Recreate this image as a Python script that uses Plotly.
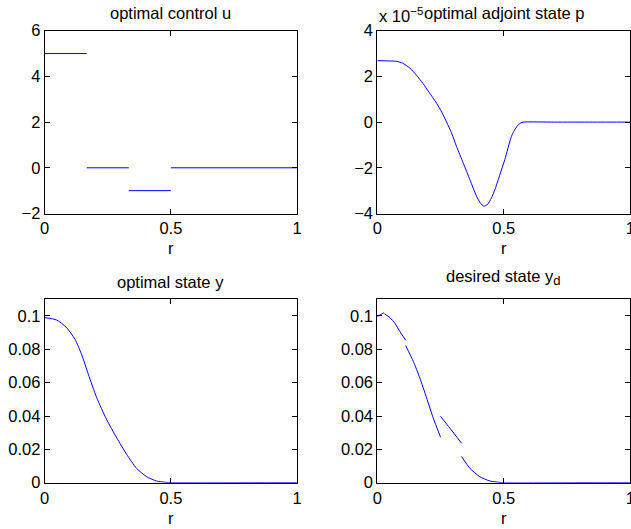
import plotly.graph_objects as go

# ---------------- data ----------------
# optimal control u (piecewise constant segments, None = break)
u_r = [0.0, 0.1667, None, 0.1667, 0.3333, None, 0.3333, 0.5, None, 0.5, 1.0]
u_val = [5, 5, None, 0, 0, None, -1, -1, None, 0, 0]

# optimal adjoint state p
p_r = [0.0, 0.03, 0.076, 0.10, 0.129, 0.155, 0.18, 0.205, 0.234, 0.255, 0.274,
       0.295, 0.313, 0.34, 0.366, 0.392, 0.408, 0.421, 0.436, 0.451, 0.465,
       0.478, 0.504, 0.53, 0.545, 0.557, 0.568, 0.576, 0.7, 0.85, 1.0]
p_val = [2.69e-5, 2.68e-5, 2.66e-5, 2.58e-5, 2.36e-5, 2.05e-5, 1.70e-5, 1.30e-5,
         0.83e-5, 0.43e-5, 0.0, -0.52e-5, -1.06e-5, -1.80e-5, -2.52e-5, -3.24e-5,
         -3.55e-5, -3.68e-5, -3.60e-5, -3.32e-5, -2.95e-5, -2.52e-5, -1.64e-5,
         -0.63e-5, -0.30e-5, -0.12e-5, -0.03e-5, 0.0, 0.0, 0.0, 0.0]

# optimal state y
y_r = [0.0, 0.047, 0.087, 0.12, 0.146, 0.173, 0.206, 0.245, 0.285, 0.325,
       0.364, 0.404, 0.443, 0.483, 0.5, 0.75, 1.0]
y_val = [0.099, 0.0976, 0.093, 0.086, 0.077, 0.065, 0.051, 0.038, 0.027, 0.017,
         0.0086, 0.0036, 0.001, 0.0002, 0.0, 0.0, 0.0]

# desired state y_d (discontinuous, None = break)
yd_r = [0.0, 0.026, None,
        0.028, 0.05, 0.07, 0.09, 0.112, None,
        0.112, 0.142, 0.168, 0.195, 0.221, 0.25, None,
        0.25, 0.287, 0.333, None,
        0.333, 0.366, 0.405, 0.445, 0.497, 0.75, 1.0]
yd_val = [0.0996, 0.102, None,
          0.1013, 0.099, 0.0955, 0.0905, 0.0855, None,
          0.0823, 0.0729, 0.0629, 0.0508, 0.0388, 0.0273, None,
          0.0398, 0.0327, 0.0237, None,
          0.0157, 0.0086, 0.0036, 0.001, 0.0, 0.0, 0.0]

x_ticks = [0, 0.5, 1]
x_ticktext = ["0", "0.5", "1"]
u_ticks = [-2, 0, 2, 4, 6]
u_ticktext = ["\u22122", "0", "2", "4", "6"]
p_ticks = [-4e-5, -2e-5, 0, 2e-5, 4e-5]
p_ticktext = ["\u22124", "\u22122", "0", "2", "4"]
y_ticks = [0, 0.02, 0.04, 0.06, 0.08, 0.1]
y_ticktext = ["0", "0.02", "0.04", "0.06", "0.08", "0.1"]

titles = ["optimal control u", "optimal adjoint state p",
          "optimal state y", "desired state y<sub><span style=\"font-size:13px\">d</span></sub>"]

# ---------------- figure ----------------
W, H = 631, 529
FONT = "Liberation Sans, Arial, Helvetica, sans-serif"
FS = 16.5
BLUE = "#0000ff"

fig = go.Figure()
fig.add_trace(go.Scatter(x=u_r, y=u_val, mode="lines", line=dict(color=BLUE, width=1),
                         xaxis="x", yaxis="y", connectgaps=False))
fig.add_trace(go.Scatter(x=p_r, y=p_val, mode="lines",
                         line=dict(color=BLUE, width=1, shape="spline", smoothing=0.6),
                         xaxis="x2", yaxis="y2"))
fig.add_trace(go.Scatter(x=y_r, y=y_val, mode="lines",
                         line=dict(color=BLUE, width=1, shape="spline", smoothing=0.6),
                         xaxis="x3", yaxis="y3"))
fig.add_trace(go.Scatter(x=yd_r, y=yd_val, mode="lines",
                         line=dict(color=BLUE, width=1, shape="spline", smoothing=0.5),
                         xaxis="x4", yaxis="y4", connectgaps=False))

def px_x(p):
    return p / W

def px_y(p):
    return 1 - p / H

left_dom = [px_x(44.7), px_x(297.0)]
right_dom = [px_x(377.3), px_x(630.3)]
top_dom = [px_y(213.5), px_y(30.7)]
bot_dom = [px_y(482.7), px_y(299.3)]

common = dict(showline=True, linecolor="black", linewidth=1, mirror="allticks",
              ticks="inside", ticklen=5, tickwidth=1, tickcolor="black",
              showgrid=False, zeroline=False, automargin=False,
              ticklabeloverflow="allow",
              tickfont=dict(family=FONT, size=FS, color="black"))

def xax(dom, anchor):
    return dict(domain=dom, anchor=anchor, range=[0, 1], tickvals=x_ticks,
                ticktext=x_ticktext, ticklabelstandoff=0, **common)

def yax(dom, anchor, rng, tv, tt):
    return dict(domain=dom, anchor=anchor, range=rng, tickvals=tv, ticktext=tt,
                ticklabelstandoff=0, **common)

fig.update_layout(
    width=W, height=H, margin=dict(l=0, r=0, t=0, b=0, pad=0, autoexpand=False),
    paper_bgcolor="white", plot_bgcolor="white", showlegend=False,
    font=dict(family=FONT, size=FS, color="black"),
    xaxis=xax(left_dom, "y"),
    yaxis=yax(top_dom, "x", [-2, 6], u_ticks, u_ticktext),
    xaxis2=xax(right_dom, "y2"),
    yaxis2=yax(top_dom, "x2", [-4e-5, 4e-5], p_ticks, p_ticktext),
    xaxis3=xax(left_dom, "y3"),
    yaxis3=yax(bot_dom, "x3", [0, 0.11], y_ticks, y_ticktext),
    xaxis4=xax(right_dom, "y4"),
    yaxis4=yax(bot_dom, "x4", [0, 0.11], y_ticks, y_ticktext),
)

ann = []
cx_left = (44.7 + 297.0) / 2
cx_right = (377.3 + 630.3) / 2
for txt, cx, cy in [(titles[0], cx_left, 12.5), (titles[1], cx_right + 1, 12.5),
                    (titles[2], cx_left, 281.5), (titles[3], cx_right, 277.0)]:
    ann.append(dict(text=txt, x=px_x(cx), y=px_y(cy), xref="paper", yref="paper",
                    xanchor="center", yanchor="middle", showarrow=False,
                    font=dict(family=FONT, size=FS, color="black")))
for cx, cy in [(cx_left, 248), (cx_right, 248), (cx_left, 518), (cx_right, 518)]:
    ann.append(dict(text="r", x=px_x(cx), y=px_y(cy), xref="paper", yref="paper",
                    xanchor="center", yanchor="middle", showarrow=False,
                    font=dict(family=FONT, size=FS, color="black")))
ann.append(dict(text="x 10<sup>\u22125</sup>", x=px_x(376.5), y=px_y(14.5),
                xref="paper", yref="paper", xanchor="left", yanchor="middle",
                showarrow=False, font=dict(family=FONT, size=FS, color="black")))
fig.update_layout(annotations=ann)

fig.write_html("out.html", config={"displayModeBar": False},
               post_script="document.body.style.margin='0';document.body.style.padding='0';")
